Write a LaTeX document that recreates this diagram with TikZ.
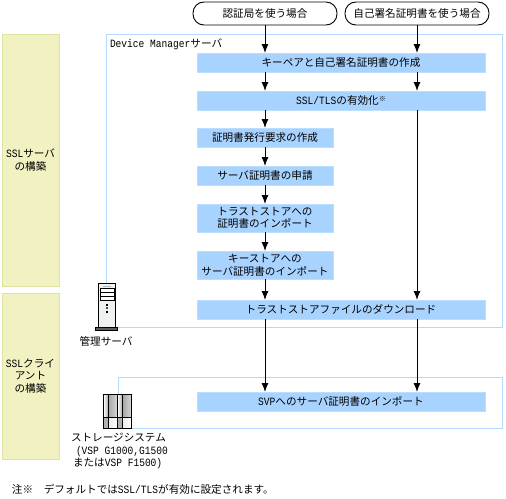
\documentclass[tikz,border=0pt]{standalone}
\usepackage{fontspec}
\setmainfont{Noto Sans CJK JP}
\newfontfamily\latfont[Scale=1.05,FakeStretch=0.86]{Liberation Mono}
\newcommand{\lat}[1]{{\latfont #1}}
\usepackage{tikz}
\usetikzlibrary{arrows.meta,positioning}
\definecolor{boxblue}{HTML}{A9D3FF}
\definecolor{boxedge}{HTML}{BBDDFF}
\definecolor{frameblue}{HTML}{B5DAFF}
\definecolor{sideyellow}{HTML}{F1F1C2}
\definecolor{sideedge}{HTML}{DFE3A0}

\begin{document}
\begin{tikzpicture}[
      x=1pt, y=-1pt,
      every node/.style={font=\fontsize{10.6pt}{12.6pt}\selectfont, inner sep=0pt, outer sep=0pt, align=center},
      startbox/.style={draw, line width=0.9pt, rounded corners=11pt, minimum width=144pt, minimum height=23pt},
      widebox/.style={draw=boxedge, fill=boxblue, minimum width=288pt, minimum height=19pt},
      smallbox/.style={draw=boxedge, fill=boxblue, minimum width=136pt, minimum height=19pt},
      sidebox/.style={draw=sideedge, line width=1pt, fill=sideyellow, minimum width=57pt},
      frameline/.style={draw=frameblue, line width=1pt},
      arrow/.style={draw, line width=1pt, -{Latex[length=9pt,width=7pt]}},
    ]
      \useasboundingbox (0,0) rectangle (506,498);
      % left bands
      \node[sidebox, minimum height=252pt] (sidea) at (30.5,160) {\lat{SSL}サーバ\\の構築};
      \node[sidebox, minimum height=166pt] (sideb) at (30.5,376) {\lat{SSL}クライ\\アント\\の構築};
      % frames
      \draw[frameline] (106.5,283) -- (106.5,34.5) -- (502.5,34.5) -- (502.5,327) -- (117,327);
      \draw[frameline] (118,394) -- (118,377) -- (502.5,377) -- (502.5,428) -- (132,428);
      \node[anchor=west] (dmname) at (110,44.5) {\lat{Device Manager}サーバ};
      % start points
      \node[startbox] (caseca) at (265,13.5) {認証局を使う場合};
      \node[startbox, right=8pt of caseca] (caseself) {自己署名証明書を使う場合};
      % steps
      \node[widebox] (keypair) at (341,62.5) {キーペアと自己署名証明書の作成};
      \node[widebox, below=19pt of keypair] (ssltls) {\lat{SSL/TLS}の有効化\raisebox{3pt}{\scriptsize ※}};
      \node[smallbox, below right=18pt and 0pt of ssltls.south west] (csr) {証明書発行要求の作成};
      \node[smallbox, below=19pt of csr] (apply) {サーバ証明書の申請};
      \node[smallbox, below=19pt of apply, minimum height=28pt] (truststore) {トラストストアへの\\証明書のインポート};
      \node[smallbox, below=19pt of truststore, minimum height=28pt] (keystore) {キーストアへの\\サーバ証明書のインポート};
      \node[widebox, below right=21pt and 0pt of keystore.south west] (download) {トラストストアファイルのダウンロード};
      \node[widebox, below=73pt of download] (svp) {\lat{SVP}へのサーバ証明書のインポート};
      % arrows, left column
      \draw[arrow] (caseca.south) -- (caseca.south |- keypair.north);
      \draw[arrow] (caseca.south |- keypair.south) -- (caseca.south |- ssltls.north);
      \draw[arrow] (caseca.south |- ssltls.south) -- (csr.north);
      \draw[arrow] (csr) -- (apply);
      \draw[arrow] (apply) -- (truststore);
      \draw[arrow] (truststore) -- (keystore);
      \draw[arrow] (keystore.south) -- (keystore.south |- download.north);
      \draw[arrow] (caseca.south |- download.south) -- (caseca.south |- svp.north);
      % arrows, right column
      \draw[arrow] (caseself.south) -- (caseself.south |- keypair.north);
      \draw[arrow] (caseself.south |- keypair.south) -- (caseself.south |- ssltls.north);
      \draw[arrow] (caseself.south |- ssltls.south) -- (caseself.south |- download.north);
      \draw[arrow] (caseself.south |- download.south) -- (caseself.south |- svp.north);
      % server
      \draw[line width=0.8pt, fill=gray!12] (98.5,283.5) rectangle (115.5,327);
      \fill[gray!60] (103,285.5) rectangle (111,287);
      \draw[line width=0.8pt, fill=white] (100,288) rectangle (114,300);
      \draw[line width=0.8pt] (100,292) -- (114,292) (100,296) -- (114,296);
      \fill[black] (105.5,304) rectangle (108,306);
      \fill[green!50!black] (106,307) rectangle (107.5,309);
      \fill[black] (106,311) rectangle (107.5,313);
      \draw[fill=gray!70!black, line width=0.8pt] (95.5,327.5) rectangle (117.5,330.5);
      \node (srvname) at (106,341) {管理サーバ};
      % storage
      \foreach \x in {103.5,117.5}{
        \shade[left color=white, right color=gray!70] (\x,395) rectangle ++(5,22);
        \shade[left color=gray!70, right color=gray!30] (\x+5,395) rectangle ++(9,22);
        \fill[gray!60] (\x,418) rectangle ++(5,10);
        \shade[left color=gray!15, right color=white] (\x+5,418) rectangle ++(9,10);
      }
      \draw[line width=1pt] (103.5,394.5) rectangle (131.5,428);
      \draw[line width=0.7pt] (108.5,394.5) -- (108.5,428) (122.5,394.5) -- (122.5,428) (103.5,417.5) -- (131.5,417.5);
      \draw[line width=1pt] (117.5,394.5) -- (117.5,428);
      \node[anchor=north west, align=left] (stname) at (71,433) {ストレージシステム\\\hspace*{5pt}\lat{(VSP G1000,}\lat{G1500}\\\hspace*{2pt}または\lat{VSP F1500)}};
      % note
      \node[anchor=west] (note) at (12,489) {注※\hspace{10.6pt}デフォルトでは\lat{SSL/TLS}が有効に設定されます。};
    \end{tikzpicture}
\end{document}
